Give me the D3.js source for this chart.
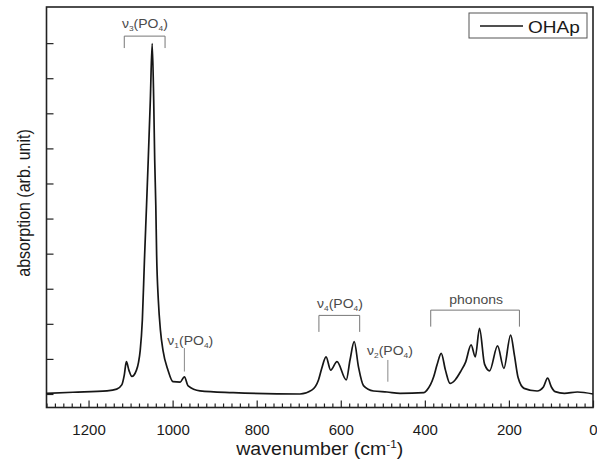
<!DOCTYPE html>
<html>
<head>
<meta charset="utf-8">
<script src="https://cdn.jsdelivr.net/npm/d3@7"></script>
<style>
  body { margin: 0; background: #fff; }
  svg text { font-family: "Liberation Sans", Arial, sans-serif; }
</style>
</head>
<body>
<div id="chart"></div>
<script>
// Spectrum (wavenumber in cm-1, absorption in arb. unit)
var wavenumber = [1300, 1237, 1156, 1133, 1121, 1115, 1110, 1104, 1097, 1086, 1081,
  1077, 1072, 1067, 1062, 1058, 1053, 1048.6, 1045, 1042.6, 1040, 1038, 1034, 1029,
  1023, 1011, 999, 982, 972, 963, 935, 856, 697, 669, 653, 645, 635, 624, 609, 587,
  578, 568, 558, 546, 522, 490, 459, 402, 395, 379, 371, 361, 351, 340, 328, 314,
  303, 290, 280, 270, 258, 246, 227, 212, 196, 187, 178, 164, 133, 118, 108, 99, 90,
  68, 37, 0];
var absorption = [0.02, 0.05, 0.09, 0.14, 0.26, 0.54, 0.92, 0.68, 0.50, 0.68, 0.91,
  1.25, 2.11, 3.82, 5.38, 6.67, 8.38, 9.99, 8.38, 6.67, 5.38, 3.96, 2.68, 1.82,
  1.25, 0.68, 0.35, 0.34, 0.49, 0.23, 0.09, 0.04, 0.0, 0.11, 0.40, 0.74, 1.06, 0.68,
  0.92, 0.40, 0.97, 1.49, 0.78, 0.24, 0.085, 0.057, 0.02, 0.04, 0.11, 0.49, 0.83,
  1.16, 0.68, 0.30, 0.40, 0.66, 0.91, 1.40, 1.06, 1.87, 0.85, 0.66, 1.37, 0.73,
  1.68, 1.11, 0.46, 0.16, 0.085, 0.20, 0.45, 0.20, 0.066, 0.02, 0.057, 0.0];

var xTicks = [1200, 1000, 800, 600, 400, 200, 0];
var yTicks = [0, 1, 2, 3, 4, 5, 6, 7, 8, 9, 10];
var seriesName = "OHAp";

// Band annotations: brackets span [from, to], lines sit at "at"
var brackets = [
  { label: "\u03bd", sub: "3", from: 1115, to: 1018, top: 10.2, leg: 9.86, tx: 1066, ty: 10.42 },
  { label: "\u03bd", sub: "4", from: 652, to: 555, top: 2.24, leg: 1.77, tx: 602, ty: 2.45 },
  { label: "phonons", sub: null, from: 386, to: 175, top: 2.39, leg: 1.92, tx: 278, ty: 2.56 }
];
var markers = [
  { label: "\u03bd", sub: "1", at: 972, top: 1.31, bottom: 0.64, tx: 958, ty: 1.4 },
  { label: "\u03bd", sub: "2", at: 488, top: 0.97, bottom: 0.35, tx: 483, ty: 1.12 }
];

var width = 597;
var height = 464;
var margin = { top: 7, right: 4, bottom: 57, left: 46 };
// the original figure is a little wider than tall, so letters come out stretched
var stretch = 1.12;

var svg = d3.select("#chart")
  .append("svg")
  .attr("width", width)
  .attr("height", height);

var xScale = d3.scaleLinear()
  .domain([1300, 0])
  .range([margin.left + 0.5, width - margin.right]);

var yScale = d3.scaleLinear()
  .domain([-0.385, 11.03])
  .range([height - margin.bottom + 0.5, margin.top]);

var x0 = xScale.range()[0], x1 = xScale.range()[1];
var y0 = yScale.range()[0], y1 = yScale.range()[1];

// Bottom axis, ticks pointing inwards
var xAxis = d3.axisBottom(xScale)
  .tickValues(xTicks)
  .tickSize(-7)
  .tickPadding(17)
  .tickFormat(d3.format("d"));

var xMinor = d3.axisBottom(xScale)
  .tickValues(d3.range(1300, -1, -20).filter(function(d) { return d % 200 !== 0; }))
  .tickSize(-4)
  .tickFormat("");

svg.append("g")
  .attr("class", "xMinor")
  .attr("transform", "translate(0," + y0 + ")")
  .call(xMinor);

svg.append("g")
  .attr("class", "xAxis")
  .attr("transform", "translate(0," + y0 + ")")
  .call(xAxis);

var yAxis = d3.axisLeft(yScale)
  .tickValues(yTicks)
  .tickSize(-7)
  .tickFormat("");

svg.append("g")
  .attr("class", "yAxis")
  .attr("transform", "translate(" + x0 + ",0)")
  .call(yAxis);

svg.selectAll(".domain").remove();
svg.selectAll(".tick line").attr("stroke", "#222").attr("stroke-width", 1.2);
svg.selectAll(".xAxis text")
  .attr("font-size", 15)
  .attr("fill", "#1a1a1a");

// Frame
svg.append("rect")
  .attr("x", x0)
  .attr("y", y1)
  .attr("width", x1 - x0)
  .attr("height", y0 - y1)
  .attr("fill", "none")
  .attr("stroke", "#222")
  .attr("stroke-width", 1.6);

// Spectrum
var points = wavenumber.map(function(w, i) { return [w, absorption[i]]; });

var line = d3.line()
  .x(function(d) { return xScale(d[0]); })
  .y(function(d) { return yScale(d[1]); })
  .curve(d3.curveMonotoneX);

svg.append("path")
  .datum(points)
  .attr("fill", "none")
  .attr("stroke", "#161616")
  .attr("stroke-width", 1.7)
  .attr("stroke-linejoin", "round")
  .attr("d", line);

// Annotations
function addLabel(d) {
  var t = svg.append("text")
    .attr("transform", "translate(" + xScale(d.tx) + "," + yScale(d.ty) + ")scale(" + stretch + ",1)")
    .attr("text-anchor", "middle")
    .attr("font-size", 12.5)
    .attr("fill", "#4a4a4a");
  if (d.sub) {
    t.append("tspan").text(d.label);
    t.append("tspan").attr("font-size", 7.5).attr("dy", 3).text(d.sub);
    t.append("tspan").attr("dy", -3).text("(PO");
    t.append("tspan").attr("font-size", 7.5).attr("dy", 3).text("4");
    t.append("tspan").attr("dy", -3).text(")");
  } else {
    t.text(d.label);
  }
}

brackets.forEach(function(d) {
  var path = d3.path();
  path.moveTo(xScale(d.from), yScale(d.leg));
  path.lineTo(xScale(d.from), yScale(d.top));
  path.lineTo(xScale(d.to), yScale(d.top));
  path.lineTo(xScale(d.to), yScale(d.leg));
  svg.append("path")
    .attr("d", path.toString())
    .attr("fill", "none")
    .attr("stroke", "#777")
    .attr("stroke-width", 1);
  addLabel(d);
});

markers.forEach(function(d) {
  svg.append("line")
    .attr("x1", xScale(d.at))
    .attr("x2", xScale(d.at))
    .attr("y1", yScale(d.top))
    .attr("y2", yScale(d.bottom))
    .attr("stroke", "#888")
    .attr("stroke-width", 1);
  addLabel(d);
});

// Legend
var legend = svg.append("g").attr("transform", "translate(469,13)");
legend.append("rect")
  .attr("width", 118)
  .attr("height", 25)
  .attr("fill", "#fff")
  .attr("stroke", "#555")
  .attr("stroke-width", 1);
legend.append("line")
  .attr("x1", 11).attr("x2", 54)
  .attr("y1", 13).attr("y2", 13)
  .attr("stroke", "#161616")
  .attr("stroke-width", 1.7);
legend.append("text")
  .attr("transform", "translate(59,20)scale(" + stretch + ",1)")
  .attr("font-size", 17)
  .attr("fill", "#1a1a1a")
  .text(seriesName);

// Axis titles
var xTitle = svg.append("text")
  .attr("transform", "translate(" + ((x0 + x1) / 2) + ",455)scale(" + stretch + ",1)")
  .attr("text-anchor", "middle")
  .attr("font-size", 17.5)
  .attr("fill", "#1a1a1a");
xTitle.append("tspan").text("wavenumber (cm");
xTitle.append("tspan").attr("font-size", 10.5).attr("dy", -7).text("-1");
xTitle.append("tspan").attr("dy", 7).text(")");

svg.append("text")
  .attr("transform", "translate(30,203)rotate(-90)scale(1," + stretch + ")")
  .attr("text-anchor", "middle")
  .attr("font-size", 16)
  .attr("fill", "#1a1a1a")
  .text("absorption (arb. unit)");
</script>
</body>
</html>
